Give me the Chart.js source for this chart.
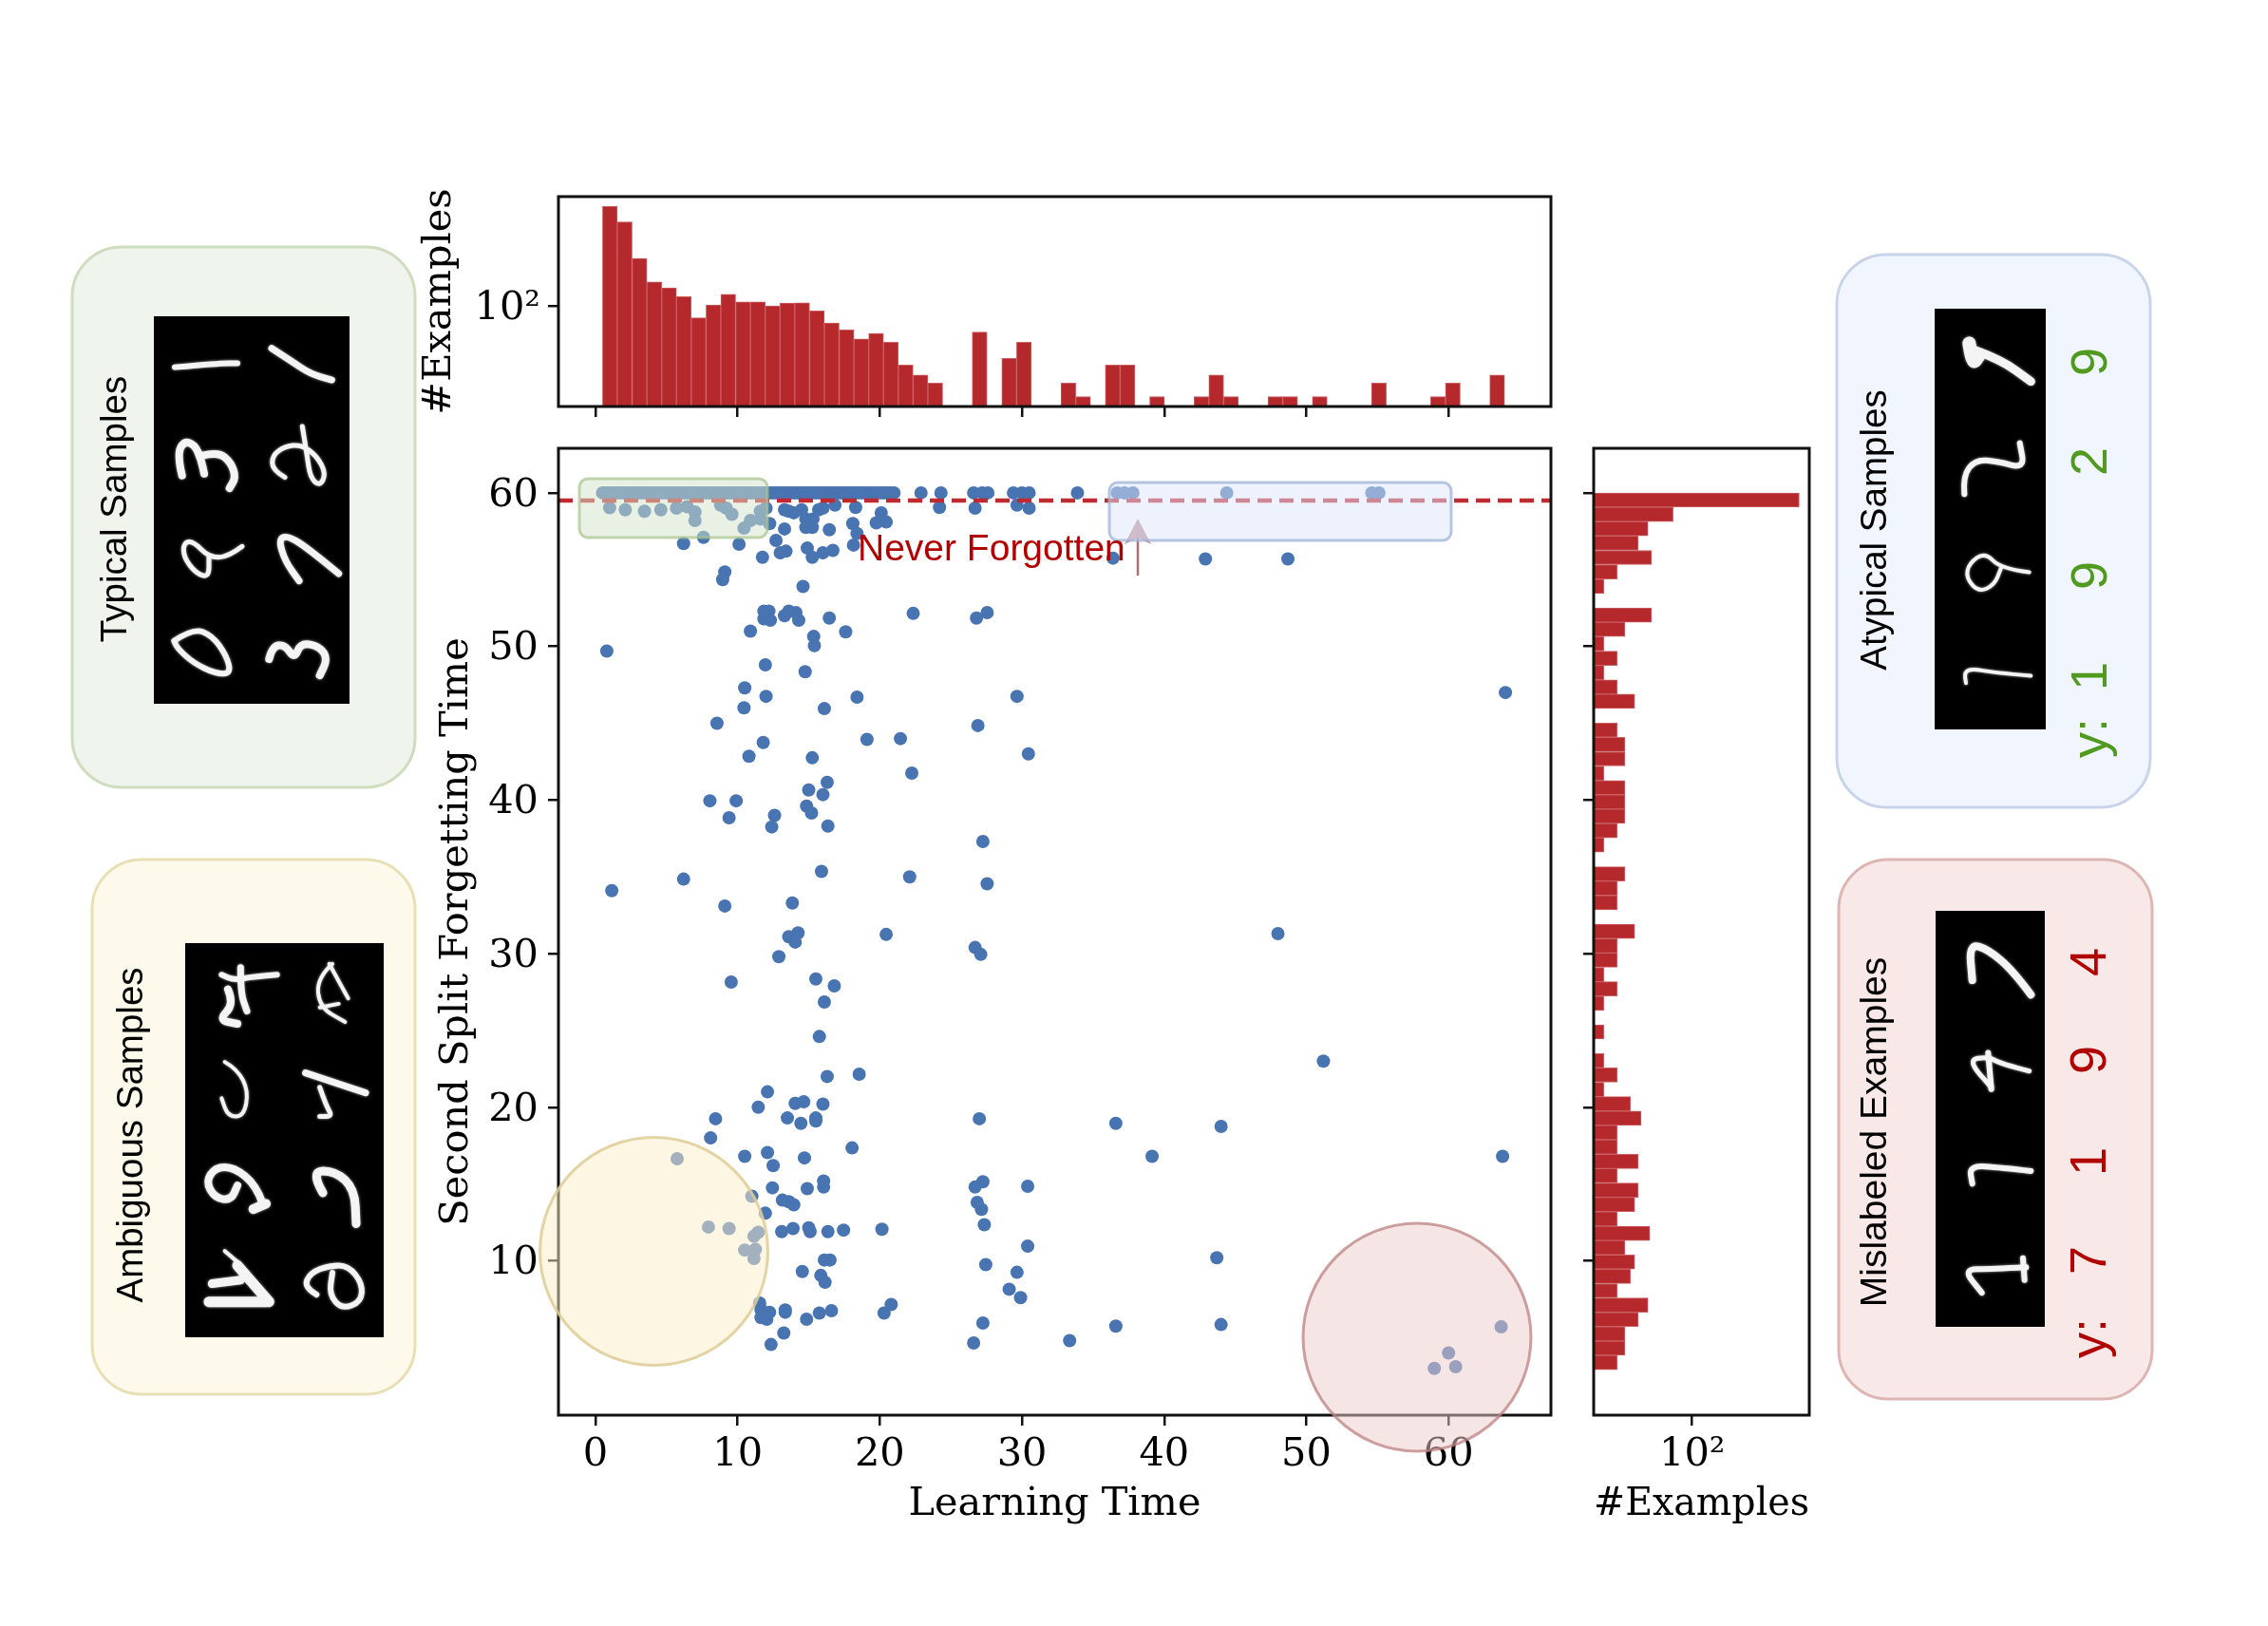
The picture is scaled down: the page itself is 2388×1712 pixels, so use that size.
<!DOCTYPE html>
<html><head><meta charset="utf-8">
<script src="https://cdn.jsdelivr.net/npm/chart.js@4"></script>
<style>html,body{margin:0;padding:0;background:#fff;width:2388px;height:1712px;overflow:hidden}
canvas{position:absolute;left:0;top:0}</style></head>
<body>
<canvas id="top" width="2388" height="1712"></canvas>
<canvas id="right" width="2388" height="1712"></canvas>
<canvas id="main" width="2388" height="1712"></canvas>
<script>
// ---------- DATA ----------
const neverForgottenX = [0.5,0.75,1,1.25,1.5,1.75,2,2.25,2.5,2.75,3,3.25,3.5,3.75,4,4.25,4.5,4.75,5,5.25,5.5,5.75,6,6.25,6.5,6.75,7,7.25,7.5,7.75,8,8.25,8.5,8.75,9,9.25,9.5,9.75,10,10.25,10.5,10.75,11,11.25,11.5,11.75,12,12.25,12.5,12.75,13,13.25,13.5,13.75,14,14.25,14.5,14.75,15,15.25,15.5,15.75,16,16.25,16.5,16.75,17,17.25,17.5,17.75,18,18.25,18.5,18.75,19,19.25,19.5,19.75,20,20.25,20.5,20.75,21,22.9,24.3,26.6,27.2,27.6,29.4,30,30.5,33.9,36.7,37.2,37.8,44.4,54.6,55.1];
const neverForgottenY = neverForgottenX.map(() => 60);
const learningTime = [1.0,2.1,3.45,4.6,5.7,6.45,7.0,7.0,8.8,9.2,9.6,10.45,10.9,11.6,11.6,12,12.25,7.6,6.2,10.1,13.3,12.7,11.75,13,13.4,13.3,13.6,13.95,14.5,14.8,15.3,14.8,15.25,15.7,16,16.85,18.3,16.45,18.1,18.4,18.15,16.7,16,14.9,15.25,20.1,19.75,20.45,24.2,26.7,29.65,30.5,36.4,42.9,48.7,9.1,8.95,14.6,11.85,12.2,11.85,12.3,13.6,13.3,14.1,14.3,16.45,22.35,26.8,27.55,10.9,15.35,15.4,17.6,0.8,11.95,14.75,10.5,12,18.4,29.65,10.45,16.1,8.55,26.9,11.8,19.1,21.45,30.45,10.8,15.25,22.25,16.3,15,16,8.05,9.9,14.85,15.2,12.6,9.4,12.4,16.35,27.25,15.9,6.2,22.1,27.55,1.15,9.1,13.85,
14.25,13.6,14.05,20.45,26.7,27.1,48,12.9,9.55,15.5,16.8,16.1,15.75,16.3,18.55,12.1,11.45,14.05,14.65,16,8.45,13.5,14.45,15.5,15.5,27,36.6,44,8.1,18.05,10.5,12.1,12.5,14.7,5.75,39.15,12.45,14.9,16.05,16.05,26.7,27.25,30.4,11,13.15,13.6,13.95,26.85,27.15,11.95,27.35,7.95,9.4,11.45,11.15,13.1,13.9,15,15.1,16.35,17.45,20.15,30.4,10.5,11.25,11.15,16.1,16.5,43.7,27.45,29.65,14.55,15.85,16.15,29.1,29.9,11.55,11.65,12.25,13.35,13.35,11.65,12.05,14.85,15.75,16.6,20.8,20.3,27.25,13.25,36.6,44,12.35,26.6,33.35,
64,51.2,63.8,63.7,60,59,60.5];
const forgettingTime = [59.03,58.9,58.8,58.9,59,59.1,58.75,58.2,59.2,59,58.6,57.7,58.2,58.3,58.8,59,58,57.1,56.7,56.65,57.65,56.9,55.8,56.1,56.2,58.9,58.8,58.7,58.9,58.3,58.3,57.75,57.75,58.9,59,59.2,59.05,57.6,58,57.35,56.6,56.25,56.1,56.4,55.8,58.7,58.05,58.1,59.05,59,59.2,59,55.75,55.7,55.7,54.85,54.35,53.9,52.3,52.3,51.8,51.7,52.3,52,52.2,51.7,51.85,52.15,51.85,52.2,51,50.65,50.05,50.95,49.7,48.8,48.35,47.3,46.75,46.7,46.75,46,45.95,45,44.85,43.75,43.95,44,43,42.85,42.75,41.75,41.15,40.65,40.35,39.95,39.95,39.6,39.15,39,38.85,38.25,38.3,37.3,35.35,34.85,35,34.55,34.1,33.1,33.3,
31.35,31.1,30.75,31.25,30.4,29.95,31.3,29.8,28.15,28.35,27.9,26.85,24.6,22,22.15,21,20,20.25,20.35,20.2,19.25,19.3,18.95,19.3,19.1,19.25,18.95,18.75,18,17.35,16.8,17.05,16.2,16.7,16.65,16.8,14.75,14.7,15.2,14.8,14.8,15.15,14.85,14.2,13.95,13.85,13.65,13.8,13.35,13.1,12.35,12.2,12.1,11.85,11.6,11.9,12.1,12.15,11.9,11.9,12,12.05,10.95,10.7,10.75,10.15,10.05,10.05,10.2,9.75,9.25,9.3,9.05,8.6,8.15,7.6,7.25,6.8,6.65,6.8,6.65,6.3,6.2,6.2,6.6,6.75,7.15,6.6,5.95,5.3,5.75,5.85,4.55,4.65,4.8,
47,23,16.8,5.7,4,3,3.1];
const thresholdX = [-2.6,67.2];
const thresholdY = [59.5,59.5];
const topBins = [1.02,2.06,3.10,4.14,5.18,6.22,7.26,8.30,9.34,10.38,11.42,12.46,13.50,14.54,15.58,16.62,17.66,18.70,19.74,20.78,21.82,22.86,23.90,27.02,29.10,30.14,33.26,34.30,36.38,37.42,39.50,42.62,43.66,44.70,47.82,48.86,50.94,55.10,59.26,60.30,63.42];
const topCounts = [16750,7600,1170,351,258,165,56,108,187,127,127,103,119,121,80,43,30,19,25,16,5,3,2,27,7,16,2,1,5,5,1,1,3,1,1,1,1,2,1,2,3];
const rightBins = [59.53,58.60,57.66,56.72,55.79,54.85,53.91,52.04,51.11,50.17,49.23,48.30,47.36,46.43,44.55,43.62,42.68,41.75,40.81,39.87,38.94,38.00,37.07,35.19,34.26,33.32,31.45,30.51,29.58,28.64,27.71,26.77,24.90,23.03,22.09,21.15,20.22,19.28,18.35,17.41,16.47,15.54,14.60,13.67,12.73,11.79,10.86,9.92,8.99,8.05,7.11,6.18,5.24,4.31,3.37];
const rightCounts = [26400,37,10,6,12,2,1,12,3,1,2,1,2,5,2,3,3,1,3,3,3,2,1,3,2,2,5,2,2,1,2,1,1,1,2,1,4,7,2,2,6,2,6,5,2,11,3,5,4,2,10,6,3,3,2];
const xTicks = [0,10,20,30,40,50,60];
const yTicks = [10,20,30,40,50,60];
const logTicks = [100];
const xLabel = 'Learning Time', yLabel = 'Second Split Forgetting Time', countLabel = '#Examples';

// ---------- STYLE ----------
const SERIF = '"DejaVu Serif"', SANS = '"Liberation Sans"';
const FS = 41.5, BAR = '#B5292D', BAREDGE = '#CB5F62', INK = '#111';
const P = {L:588,R:1633,T:472,B:1490,TT:207,TB:428,RL:1678,RR:1905};
const W = 2388, H = 1712;
Chart.defaults.font.family = SERIF;
Chart.defaults.color = '#000';
Chart.defaults.animation = false;

const grid = {drawOnChartArea:false, offset:false, color:INK, lineWidth:2.5, tickLength:11, tickWidth:2.5};
const noBorder = {display:false};
const tickFont = {family:SERIF,size:FS};
const setTicks = vals => s => { s.ticks = vals.map(v => ({value:v})); };
const spines = {id:'spines', afterDraw(c){ const a=c.chartArea,x=c.ctx; x.save(); x.strokeStyle=INK; x.lineWidth=3; x.strokeRect(a.left,a.top,a.width,a.height); x.restore(); }};

// ---------- TOP HISTOGRAM ----------
new Chart(document.getElementById('top'),{type:'bar',
 data:{datasets:[{data:topBins.map((b,i)=>({x:b,y:topCounts[i]})),backgroundColor:BAR,borderColor:BAREDGE,borderWidth:1,barPercentage:1,categoryPercentage:1,base:0.57,clip:false}]},
 options:{responsive:false,devicePixelRatio:1,
  layout:{padding:{left:P.L-150,top:P.TT,right:W-P.R,bottom:H-P.TB-11}},
  plugins:{legend:{display:false},tooltip:{enabled:false}},
  scales:{
   x:{type:'linear',offset:false,min:-2.6,max:67.2,grid,border:noBorder,afterBuildTicks:setTicks(xTicks),ticks:{display:false,autoSkip:false},afterFit:s=>{s.height=11}},
   y:{type:'logarithmic',min:0.63,max:27500,grid,border:noBorder,afterBuildTicks:setTicks(logTicks),
      ticks:{autoSkip:false,font:tickFont,padding:8,labelOffset:3,callback:v=>v===100?'10²':''},
      title:{display:true,text:countLabel,font:{family:SERIF,size:FS},padding:0},afterFit:s=>{s.width=150}}
  }},plugins:[spines]});

// ---------- RIGHT HISTOGRAM ----------
new Chart(document.getElementById('right'),{type:'bar',
 data:{datasets:[{data:rightBins.map((b,i)=>({y:b,x:rightCounts[i]})),backgroundColor:BAR,borderColor:BAREDGE,borderWidth:1,barPercentage:1,categoryPercentage:1,base:0.56,clip:false}]},
 options:{indexAxis:'y',responsive:false,devicePixelRatio:1,
  layout:{padding:{left:P.RL-11,top:P.T,right:W-P.RR,bottom:H-P.B-120}},
  plugins:{legend:{display:false},tooltip:{enabled:false}},
  scales:{
   y:{type:'linear',offset:false,min:-0.05,max:62.9,grid,border:noBorder,afterBuildTicks:setTicks(yTicks),ticks:{display:false,autoSkip:false},afterFit:s=>{s.width=11}},
   x:{type:'logarithmic',min:0.59,max:44600,grid,border:noBorder,afterBuildTicks:setTicks(logTicks),
      ticks:{autoSkip:false,font:tickFont,padding:6,maxRotation:0,callback:v=>v===100?'10²':''},
      title:{display:true,text:countLabel,font:{family:SERIF,size:FS},padding:{top:0,bottom:1}},afterFit:s=>{s.height=120}}
  }},plugins:[spines]});

// ---------- PANELS & OVERLAYS ----------
function rr(x,a,b,c,d,r){x.beginPath();x.roundRect(a,b,c-a,d-b,r);}
function stroke(x,pts,ox,oy,sx,sy,w){
 const p=pts.map(q=>[ox+q[0]/sx,oy+q[1]/sy]);
 x.lineWidth=w;x.beginPath();x.moveTo(p[0][0],p[0][1]);
 for(let i=1;i<p.length-1;i++){const mx=(p[i][0]+p[i+1][0])/2,my=(p[i][1]+p[i+1][1])/2;x.quadraticCurveTo(p[i][0],p[i][1],mx,my);}
 x.lineTo(p[p.length-1][0],p[p.length-1][1]);x.stroke();
}
function vText(x,t,cx,cy,font,col){x.save();x.translate(cx,cy);x.rotate(-Math.PI/2);x.font=font;x.fillStyle=col;x.textAlign='center';x.textBaseline='middle';x.fillText(t,0,0);x.restore();}
const panels=[
 {box:[76,260,437,829],fill:'#EFF4EC',edge:'#CDDDBE',img:[162,333,368,741],title:'Typical Samples',tx:122,ty:536,fs:38.5,o:[60,250],
  d:[[6,[[372,357],[450,352],[520,346],[570,346]]],[7,[[678,305],[740,340],[800,375],[868,392]]],
     [8,[[395,655],[380,600],[400,560],[435,570],[455,610],[465,650]]],[8,[[460,600],[510,590],[550,620],[565,660],[545,690]]],
     [5,[[720,660],[680,640],[680,600],[720,575],[770,570],[820,600],[850,650],[830,685],[800,660],[790,600],[775,520]]],
     [5,[[585,850],[540,880],[480,880],[430,835],[400,840],[400,880],[440,925],[480,935],[480,880]]],
     [7,[[890,925],[800,860],[730,820],[700,830],[720,890],[765,945]]],
     [6,[[370,1110],[430,1075],[490,1095],[535,1150],[550,1200],[500,1200],[430,1170],[380,1130],[370,1110]]],
     [8,[[670,1160],[680,1125],[720,1120],[750,1160],[770,1115],[830,1125],[855,1160],[830,1205]]]]},
 {box:[97,905,437,1468],fill:'#FDF9EB',edge:'#E9DFB5',img:[195,993,404,1408],title:'Ambiguous Samples',tx:139,ty:1195,fs:38.5,o:[80,900],
  d:[[6,[[635,330],[560,335],[500,345],[460,330]]],[7,[[520,310],[520,380],[540,430]]],[8,[[480,370],[500,410],[450,455],[510,465]]],
     [4,[[800,300],[850,380],[860,395]]],[4,[[810,300],[760,340],[770,420],[850,460]]],[4,[[770,420],[830,410]]],
     [4,[[470,570],[510,590],[545,650],[530,720],[480,720],[460,670]]],
     [7,[[725,600],[810,625],[915,655]]],[5,[[770,640],[790,690],[810,720],[770,720]]],
     [8,[[590,960],[570,910],[500,860],[440,860],[410,900],[440,945],[490,950],[510,910]]],[10,[[560,975],[600,960]]],
     [9,[[780,930],[740,870],[820,870],[880,920],[885,1015]]],
     [4,[[470,1090],[510,1120]]],[11,[[510,1130],[590,1210],[610,1230]]],[11,[[420,1230],[600,1230]]],[9,[[430,1180],[520,1170]]],
     [6,[[760,1210],[720,1190],[740,1150],[800,1130],[860,1130],[905,1180],[900,1230],[840,1250],[800,1210],[810,1150]]]]},
 {box:[1934,268,2264,850],fill:'#F1F5FD',edge:'#C9D4EA',img:[2037,325,2154,768],title:'Atypical Samples',tx:1975,ty:558,fs:38.5,o:[1930,260],
  col:'#4F9A1F',lx:2203,labels:[['9',381],['2',486],['9',606],['1',712],['y:',777]],
  d:[[14,[[430,265],[440,325],[460,300]]],[9,[[450,285],[530,310],[625,370]]],
     [6,[[415,680],[410,630],[450,585],[520,590],[605,610],[590,540]]],
     [4,[[620,895],[530,885],[480,840],[430,870],[420,910],[460,950],[510,930],[530,885]]],
     [4,[[625,1180],[500,1170],[440,1160],[415,1170],[420,1200]]]]},
 {box:[1936,905,2266,1473],fill:'#F8E9E8',edge:'#DDB5B3',img:[2038,959,2153,1397],title:'Mislabeled Examples',tx:1975,ty:1192,fs:39,o:[1930,900],
  col:'#B00000',lx:2202,labels:[['4',1013],['9',1116],['1',1223],['7',1327],['y:',1409]],
  d:[[8,[[625,385],[570,320],[490,260],[430,245],[440,345]]],
     [5,[[620,595],[530,575],[490,555],[425,565],[500,640]]],[6,[[490,545],[500,645]]],
     [6,[[625,870],[530,860],[430,855],[440,905]]],
     [6,[[610,1135],[500,1140],[410,1140],[470,1205]]],[6,[[600,1110],[605,1170]]]]}
];
const overlays={id:'overlays',afterDraw(c){
 const x=c.ctx;x.save();
 x.strokeStyle='rgba(160,85,95,.85)';x.lineWidth=2.5;x.beginPath();x.moveTo(1198,606);x.lineTo(1198,566);x.stroke();
 x.fillStyle='rgba(165,100,112,.7)';x.beginPath();x.moveTo(1198,546);x.lineTo(1212,573);x.lineTo(1198,566);x.lineTo(1184,573);x.closePath();x.fill();
 const shade=(fill,edge)=>{x.fillStyle=fill;x.fill();x.strokeStyle=edge;x.lineWidth=3;x.stroke();};
 rr(x,610,504,808,566,9);shade('rgba(211,227,201,.5)','rgba(170,195,140,.7)');
 rr(x,1168,508,1528,569,9);shade('rgba(221,229,249,.5)','rgba(160,180,215,.75)');
 x.beginPath();x.arc(688.5,1317.5,120,0,7);shade('rgba(251,237,199,.5)','rgba(222,205,150,.85)');
 x.beginPath();x.arc(1492,1408,120,0,7);shade('rgba(238,203,203,.5)','rgba(190,130,130,.75)');
 x.font='39px '+SANS;x.fillStyle='#B00000';x.textAlign='left';x.textBaseline='alphabetic';x.fillText('Never Forgotten',903,590);
 for(const p of panels){
  const b=p.box;rr(x,b[0],b[1],b[2],b[3],52);x.fillStyle=p.fill;x.fill();x.strokeStyle=p.edge;x.lineWidth=3;x.stroke();
  const m=p.img;x.fillStyle='#000';x.fillRect(m[0],m[1],m[2]-m[0],m[3]-m[1]);
  x.save();x.strokeStyle='#f4f4f4';x.lineCap='round';x.lineJoin='round';x.shadowColor='rgba(255,255,255,.7)';x.shadowBlur=3;
  for(const d of p.d)stroke(x,d[1],p.o[0],p.o[1],3,2.613,d[0]);
  x.restore();
  vText(x,p.title,p.tx,p.ty,p.fs+'px '+SANS,'#000');
  if(p.labels)for(const l of p.labels)vText(x,l[0],p.lx,l[1],'54px '+SANS,p.col);
 }
 x.restore();
}};

// ---------- MAIN SCATTER ----------
new Chart(document.getElementById('main'),{type:'scatter',
 data:{datasets:[
  {label:'threshold',data:thresholdX.map((v,i)=>({x:v,y:thresholdY[i]})),showLine:true,borderColor:'#BE2A30',borderWidth:4.5,borderDash:[15,8],pointRadius:0,order:0},
  {label:'never',data:neverForgottenX.map((v,i)=>({x:v,y:neverForgottenY[i]})),backgroundColor:'#4974B2',borderWidth:0,pointRadius:7,order:1},
  {label:'examples',data:learningTime.map((v,i)=>({x:v,y:forgettingTime[i]})),backgroundColor:'#4974B2',borderWidth:0,pointRadius:7,order:2}
 ]},
 options:{responsive:false,devicePixelRatio:1,
  layout:{padding:{left:P.L-132,top:P.T,right:W-P.R,bottom:H-P.B-120}},
  plugins:{legend:{display:false},tooltip:{enabled:false}},
  scales:{
   x:{type:'linear',min:-2.6,max:67.2,grid,border:noBorder,afterBuildTicks:setTicks(xTicks),
      ticks:{autoSkip:false,font:tickFont,padding:6,maxRotation:0},
      title:{display:true,text:xLabel,font:{family:SERIF,size:FS},padding:{top:0,bottom:1}},afterFit:s=>{s.height=120}},
   y:{type:'linear',min:-0.05,max:62.9,grid,border:noBorder,afterBuildTicks:setTicks(yTicks),
      ticks:{autoSkip:false,font:tickFont,padding:10,labelOffset:3},
      title:{display:true,text:yLabel,font:{family:SERIF,size:FS},padding:0},afterFit:s=>{s.width=132}}
  }},plugins:[spines,overlays]});
</script>
</body></html>
